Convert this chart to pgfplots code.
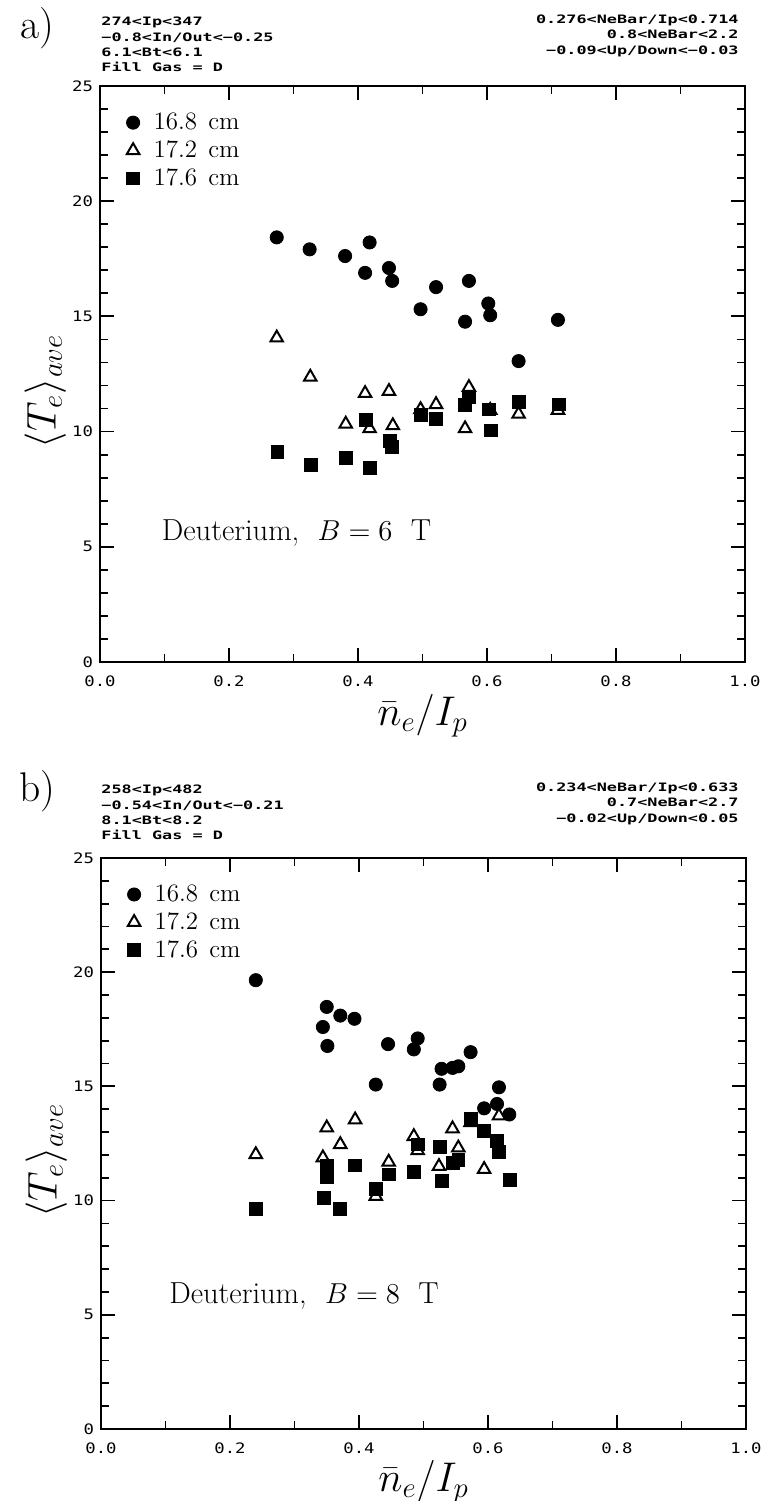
\documentclass[border=0pt]{standalone}
\usepackage{fontspec}
\usepackage{pgfplots}
\pgfplotsset{compat=1.18}
\newfontfamily\plotfont[FakeStretch=1.45]{DejaVu Sans Mono}
\newfontfamily\tickfont[FakeStretch=1.2]{DejaVu Sans Mono}

\pgfplotsset{
  panel/.style={
    scale only axis, width=322.5pt,
    xmin=0, xmax=1, ymin=0, ymax=25,
    xtick={0,0.2,0.4,0.6,0.8,1}, minor x tick num=1,
    ytick={0,5,10,15,20,25}, minor y tick num=4,
    tick align=inside, major tick length=7pt, minor tick length=4pt,
    axis line style={line width=1pt},
    every tick/.style={black, line width=0.9pt},
    /pgf/number format/assume math mode=true,
    ticklabel style={font=\tickfont\fontsize{7.2}{8}\selectfont},
    xticklabel style={/pgf/number format/fixed, /pgf/number format/fixed zerofill,
      /pgf/number format/precision=1, yshift=-3.5pt},
    xlabel={$\bar{n}_e/I_p$}, ylabel={$\langle T_e\rangle_{ave}$},
    label style={font=\fontsize{21}{25}\selectfont},
    xlabel style={at={(axis description cs:0.5,-0.093)}, anchor=center},
    ylabel style={at={(axis description cs:-0.085,0.47)}, anchor=center},
    legend style={at={(0.016,0.968)}, anchor=north west, draw=none, fill=none,
      font=\fontsize{12.5}{14}\selectfont, row sep=0pt},
    legend cell align=left,
    legend image code/.code={\draw[mark repeat=2, mark phase=2, #1]
      plot coordinates {(0pt,0pt) (8pt,0pt) (16pt,0pt)};
      \path (0pt,0pt) (16pt,0pt);},
    clip=false,
  },
  circ/.style={only marks, mark=*, mark size=3.3pt, black},
  tri/.style={only marks, mark=triangle, mark size=3.6pt, black,
    mark options={fill=white, line width=1pt}},
  sq/.style={only marks, mark=square*, mark size=3.2pt, black},
}

\begin{document}
\begin{tikzpicture}
\path[use as bounding box] (0,0) rectangle (380.5pt,750.5pt);

% panel a
\node[font=\huge] at (18.5pt,736.5pt) {a)};
\node[anchor=south west, inner sep=0pt, align=left, font=\plotfont\bfseries\fontsize{5.8}{7.6}\selectfont]
  at (50.5pt,714.5pt) {274<Ip<347\\−0.8<In/Out<−0.25\\6.1<Bt<6.1\\Fill Gas = D};
\node[anchor=south east, inner sep=0pt, align=right, font=\plotfont\bfseries\fontsize{5.8}{7.6}\selectfont]
  at (369.5pt,722pt) {0.276<NeBar/Ip<0.714\\0.8<NeBar<2.2\\−0.09<Up/Down<−0.03};

\begin{axis}[panel, height=288pt, at={(50pt,419.5pt)}, anchor=south west]
\addplot[circ] coordinates {
  (0.274,18.43)(0.325,17.91)(0.380,17.62)(0.418,18.21)(0.411,16.89)
  (0.448,17.10)(0.453,16.54)(0.497,15.31)(0.521,16.27)(0.572,16.54)
  (0.566,14.77)(0.602,15.56)(0.605,15.05)(0.649,13.06)(0.710,14.85)};
\addlegendentry{16.8\hspace{0.45em}cm}
\addplot[tri] coordinates {
  (0.274,14.07)(0.326,12.37)(0.381,10.33)(0.411,11.66)(0.418,10.13)
  (0.448,11.75)(0.454,10.26)(0.497,10.96)(0.521,11.18)(0.566,10.13)
  (0.572,11.92)(0.605,10.93)(0.649,10.76)(0.710,10.93)};
\addlegendentry{17.2\hspace{0.45em}cm}
\addplot[sq] coordinates {
  (0.275,9.11)(0.327,8.56)(0.381,8.86)(0.418,8.44)(0.412,10.51)
  (0.450,9.60)(0.453,9.35)(0.497,10.71)(0.521,10.55)(0.566,11.16)
  (0.572,11.49)(0.603,10.96)(0.606,10.05)(0.649,11.29)(0.711,11.18)};
\addlegendentry{17.6\hspace{0.45em}cm}
\node[anchor=west, font=\fontsize{15.2}{18}\selectfont] at (axis cs:0.085,5.6) {Deuterium,\ \ $B = 6$\ \ T};
\end{axis}

% panel b
\node[font=\huge] at (18.5pt,355pt) {b)};
\node[anchor=south west, inner sep=0pt, align=left, font=\plotfont\bfseries\fontsize{5.8}{7.6}\selectfont]
  at (50.5pt,330.5pt) {258<Ip<482\\−0.54<In/Out<−0.21\\8.1<Bt<8.2\\Fill Gas = D};
\node[anchor=south east, inner sep=0pt, align=right, font=\plotfont\bfseries\fontsize{5.8}{7.6}\selectfont]
  at (369.5pt,338pt) {0.234<NeBar/Ip<0.633\\0.7<NeBar<2.7\\−0.02<Up/Down<0.05};

\begin{axis}[panel, height=285.5pt, at={(50.5pt,36pt)}, anchor=south west]
\addplot[circ] coordinates {
  (0.240,19.65)(0.350,18.48)(0.344,17.60)(0.351,16.77)(0.371,18.10)
  (0.393,17.96)(0.426,15.08)(0.445,16.85)(0.485,16.62)(0.491,17.10)
  (0.525,15.08)(0.528,15.77)(0.545,15.81)(0.554,15.88)(0.573,16.50)
  (0.594,14.04)(0.614,14.23)(0.617,14.96)(0.633,13.77)};
\addlegendentry{16.8\hspace{0.45em}cm}
\addplot[tri] coordinates {
  (0.240,12.02)(0.350,13.19)(0.344,11.88)(0.371,12.46)(0.394,13.54)
  (0.426,10.19)(0.446,11.69)(0.485,12.81)(0.491,12.19)(0.524,11.50)
  (0.545,13.15)(0.554,12.31)(0.573,13.42)(0.594,11.37)(0.617,13.71)};
\addlegendentry{17.2\hspace{0.45em}cm}
\addplot[sq] coordinates {
  (0.240,9.65)(0.346,10.12)(0.350,11.54)(0.350,11.04)(0.371,9.62)
  (0.394,11.54)(0.426,10.50)(0.446,11.15)(0.485,11.27)(0.491,12.46)
  (0.525,12.35)(0.529,10.88)(0.545,11.65)(0.554,11.77)(0.573,13.56)
  (0.594,13.04)(0.614,12.62)(0.617,12.12)(0.634,10.92)};
\addlegendentry{17.6\hspace{0.45em}cm}
\node[anchor=west, font=\fontsize{15.2}{18}\selectfont] at (axis cs:0.095,5.83) {Deuterium,\ \ $B = 8$\ \ T};
\end{axis}
\end{tikzpicture}
\end{document}
